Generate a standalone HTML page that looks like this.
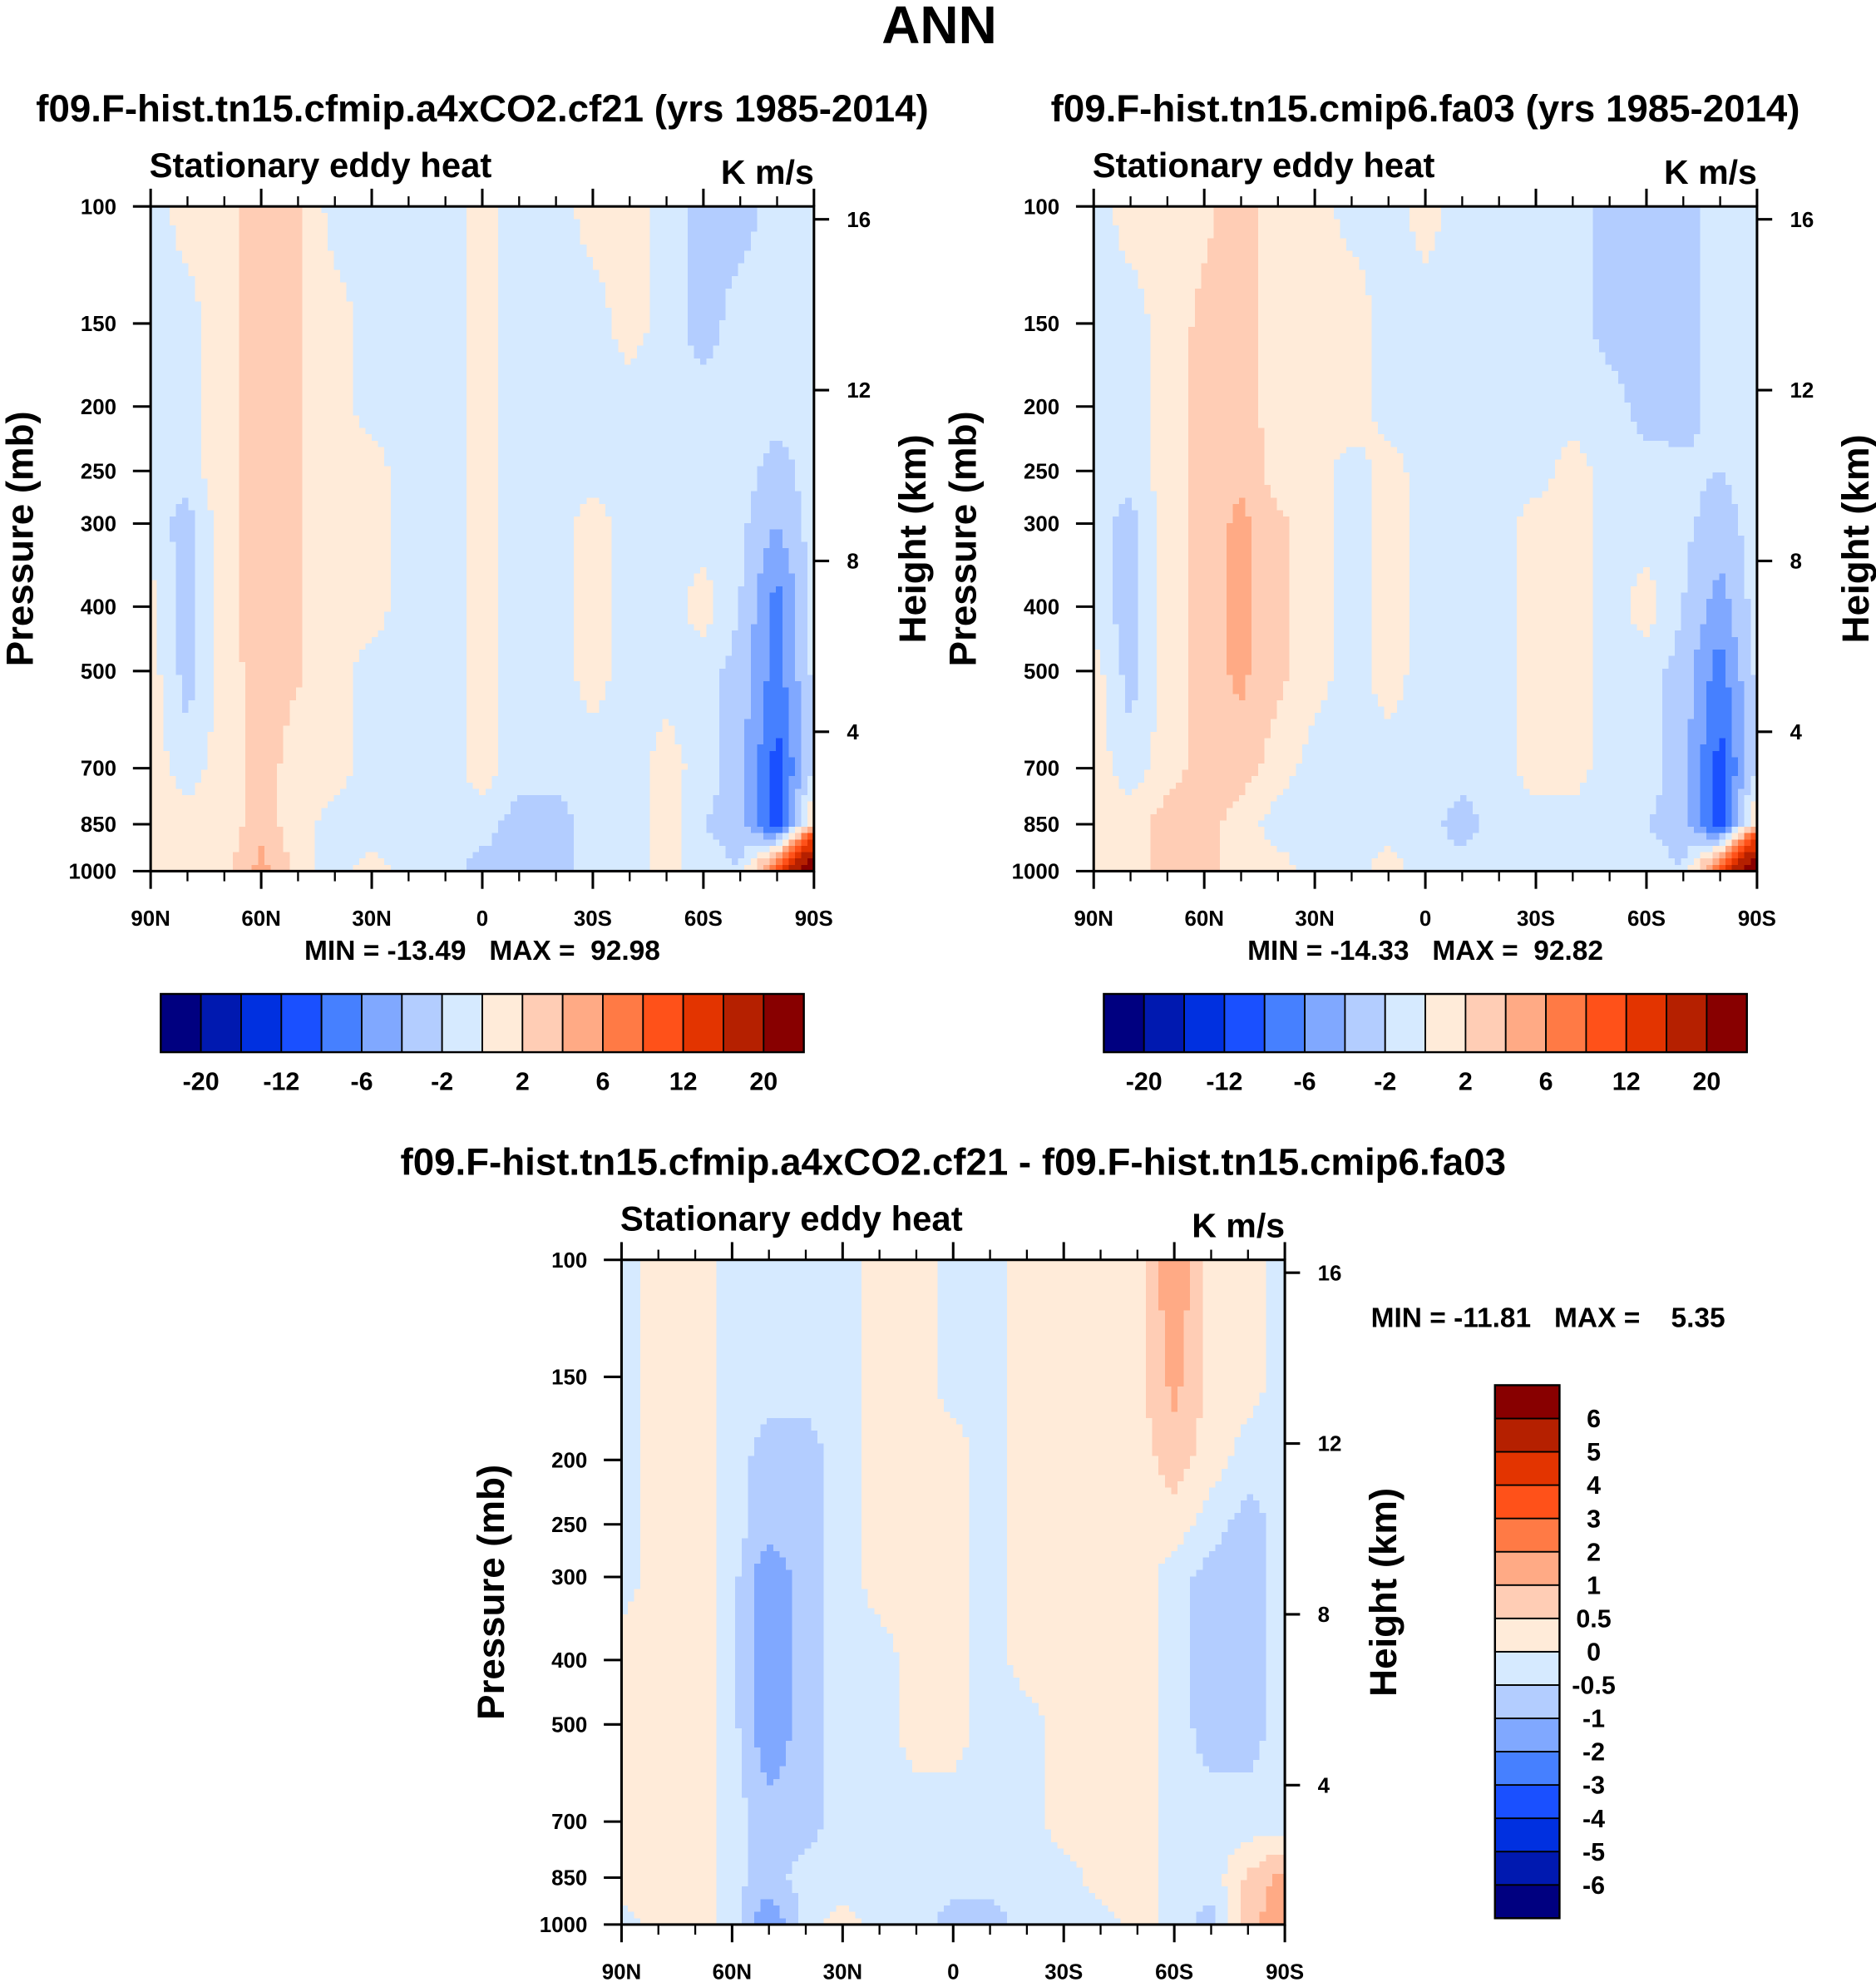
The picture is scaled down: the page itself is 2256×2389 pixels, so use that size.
<!DOCTYPE html>
<html><head><meta charset="utf-8">
<style>
html,body{margin:0;padding:0;background:#fff;}
svg text{font-family:"Liberation Sans",Arial,sans-serif;font-weight:bold;fill:#000;white-space:pre;}
</style></head>
<body>
<svg id="root" xmlns="http://www.w3.org/2000/svg" width="2256" height="2384" viewBox="0 0 1482 1566">
<rect x="0" y="0" width="1482" height="1566" fill="#fff"/>
<text x="742" y="34" font-size="42" text-anchor="middle">ANN</text>
</svg>
<script>
// ---- data ----
const lats = [90,80,70,60,50,40,30,20,10,0,-10,-20,-30,-40,-50,-60,-70,-80,-90];
const levels = [100,150,200,250,300,400,500,700,850,1000];
const pTicks = [100,150,200,250,300,400,500,700,850,1000];
const zTicks = [4,8,12,16];
const xTickLabels = ["90N","60N","30N","0","30S","60S","90S"];
const xTickLats = [90,60,30,0,-30,-60,-90];
const colors = ["#000080","#0019b0","#0030e0","#1a50ff","#4680ff","#80a8ff","#b3cdff","#d6eaff","#ffebd9","#ffcdb5","#ffaa85","#ff7a45","#ff5119","#e33400","#b52000","#880000"];
const bounds12 = [-20,-16,-12,-8,-6,-4,-2,0,2,4,6,8,12,16,20];
const barLabels12 = ["-20","-12","-6","-2","2","6","12","20"];
const bounds3 = [-6,-5,-4,-3,-2,-1,-0.5,0,0.5,1,2,3,4,5,6];
const barLabels3 = ["-6","-5","-4","-3","-2","-1","-0.5","0","0.5","1","2","3","4","5","6"];

const field1 = [
[-1, 1, 1.5, 3, 2.2,-1,-1,-1,-1, 1,-1,-1, 1, 1,-1,-3,-3,-1,-1],
[-1,-1, 1.5, 3, 2.2, 1,-1,-1,-1, 1,-1,-1,-1, 1,-1,-3,-1,-1,-1],
[-1,-1, 1.5, 3, 2.2, 1,-1,-1,-1, 1,-1,-1,-1,-1,-1,-1,-1,-1,-1],
[-1,-1, 1.5, 3, 2.2, 1, 1,-1,-1, 1,-1,-1,-1,-1,-1,-1,-1,-3,-1],
[-1,-3, 1.5, 3, 2.2, 1, 1,-1,-1, 1,-1,-1, 1,-1,-1,-1,-1.5,-4,-1],
[ 1,-3, 1.5, 3, 2.2, 1, 1,-1,-1, 1,-1,-1, 1,-1,-1, 1,-2,-7,-1.5],
[ 1,-3, 1, 3, 2.2, 1,-1,-1,-1, 1,-1,-1, 1,-1,-1,-1,-3,-7,-1.5],
[ 1,-1, 1, 3, 1, 1,-1,-1,-1, 1,-1,-1,-1,-1, 1,-1,-3,-9,-2],
[ 1, 1, 1, 3, 1,-1,-1,-1,-1,-1,-3,-3,-1,-1, 1,-2,-3,-10, 3],
[ 1, 1, 1, 5, 1,-1, 1,-1,-1,-3,-3,-3,-1,-1, 1,-1,-2, 10,30]
];
const field2 = [
[-1, 1, 1, 1.5, 3, 1, 1,-1,-1, 1,-1,-1,-1,-1,-3,-3,-3,-1,-1],
[-1,-1, 1, 2.5, 3, 1, 1, 1.5,-1,-1,-1,-1,-1,-1,-3,-3,-3,-1,-1],
[-1,-1, 1, 3, 3, 1, 1, 1.5,-1,-1,-1,-1,-1,-1,-1,-3,-3,-1,-1],
[-1,-1, 1, 3, 3.5, 1, 1,-1, 1,-1,-1,-1,-1, 1,-1,-1,-1.5,-2,-1],
[-1,-3, 1, 3, 4.5, 2.5, 1,-1, 1,-1,-1,-1, 1, 1,-1,-1,-1.5,-3,-1],
[-1,-3, 1, 3, 4.5, 2.5, 1,-1, 1,-1,-1,-1, 1, 1,-1, 1,-2,-5,-1],
[ 1,-3, 1, 3, 4.5, 2.5, 1,-1, 1,-1,-1,-1, 1, 1,-1,-1,-3,-7,-1.5],
[ 1,-1, 1, 3, 3, 1,-1,-1,-1,-1,-1,-1, 1, 1,-1,-1,-3,-9,-2],
[ 1, 1, 3, 3, 1,-1,-1,-1,-1,-1,-3,-1,-1,-1,-1,-2,-3,-10, 3],
[ 1, 1, 3, 3, 1, 1,-1,-1, 1,-1,-1,-1,-1,-1,-1,-1,-2, 10,30]
];
const field3 = [
[-0.3, 0.3, 0.3,-0.3,-0.3,-0.3,-0.3, 0.3, 0.3,-0.3,-0.3, 0.3, 0.3, 0.3, 0.3, 1.5, 0.3, 0.3,-0.3],
[-0.3, 0.3, 0.3,-0.3,-0.3,-0.3,-0.3, 0.3, 0.3,-0.3,-0.3, 0.3, 0.3, 0.3, 0.3, 1.2, 0.3, 0.3,-0.3],
[-0.3, 0.3, 0.3,-0.3,-0.7,-0.7,-0.3, 0.3, 0.3, 0.3,-0.3, 0.3, 0.3, 0.3, 0.3, 0.7, 0.3,-0.3,-0.3],
[-0.3, 0.3, 0.3,-0.3,-0.7,-0.7,-0.3, 0.3, 0.3, 0.3,-0.3, 0.3, 0.3, 0.3, 0.3, 0.3,-0.3,-0.7,-0.3],
[-0.3, 0.3, 0.3,-0.3,-1.5,-0.7,-0.3, 0.3, 0.3, 0.3,-0.3, 0.3, 0.3, 0.3, 0.3,-0.3,-0.7,-0.7,-0.3],
[ 0.3, 0.3, 0.3,-0.3,-1.5,-0.7,-0.3,-0.3, 0.3, 0.3,-0.3, 0.3, 0.3, 0.3, 0.3,-0.3,-0.7,-0.7,-0.3],
[ 0.3, 0.3, 0.3,-0.3,-1.5,-0.7,-0.3,-0.3, 0.3, 0.3,-0.3,-0.3, 0.3, 0.3, 0.3,-0.3,-0.7,-0.7,-0.3],
[ 0.3, 0.3, 0.3,-0.3,-0.7,-0.7,-0.3,-0.3,-0.3,-0.3,-0.3,-0.3, 0.3, 0.3, 0.3,-0.3,-0.3,-0.3,-0.3],
[ 0.3, 0.3, 0.3,-0.3,-0.7,-0.3,-0.3,-0.3,-0.3,-0.3,-0.3,-0.3,-0.3, 0.3, 0.3,-0.3,-0.3, 0.6, 1.2],
[-0.3, 0.3, 0.3,-0.3,-1.5,-0.3, 0.3,-0.3,-0.3,-0.7,-0.7,-0.3,-0.3,-0.3, 0.3,-0.3,-0.7, 0.8, 1.5]
];

// ---- drawing ----
const NS = "http://www.w3.org/2000/svg";
const root = document.getElementById('root');
function mk(tag, attrs, parent){
  const e = document.createElementNS(NS, tag);
  for (const k in attrs) e.setAttribute(k, attrs[k]);
  (parent||root).appendChild(e); return e;
}
function txt(s, x, y, size, anchor, parent, rot){
  const t = mk('text', {x:x, y:y, 'font-size':size, 'text-anchor':anchor||'start'}, parent);
  if (rot) t.setAttribute('transform', 'rotate(-90 '+x+' '+y+')');
  t.textContent = s; return t;
}
function colorIdx(v, b){ let i=0; while(i<b.length && v>=b[i]) i++; return i; }

function panel(name, x0, y0, field, bounds, title, minmax){
  const W=524, H=525;
  const g = mk('g', {});
  
  
  const xOf = lat => x0 + (90-lat)/180*W;
  const yOf = p => y0 + Math.log10(p/100)*H;
  const hm = mk('g', {'shape-rendering':'crispEdges'}, g);
  
  
  const rowY = levels.map(yOf);
  const NX=105, NY=105;
  const cw=W/NX, ch=H/NY;
  for (let j=0;j<NY;j++){
    const yc = y0 + (j+0.5)*ch;
    let r=0; while(r<levels.length-2 && rowY[r+1]<yc) r++;
    let ty=(yc-rowY[r])/(rowY[r+1]-rowY[r]); ty=Math.max(0,Math.min(1,ty));
    let runStart=0, runCol=-1;
    for (let i=0;i<=NX;i++){
      let ci=-1;
      if (i<NX){
        const fx=(i+0.5)/NX*(lats.length-1);
        const c=Math.min(lats.length-2,Math.floor(fx)); const tx=fx-c;
        const v=(1-ty)*((1-tx)*field[r][c]+tx*field[r][c+1])+ty*((1-tx)*field[r+1][c]+tx*field[r+1][c+1]);
        ci=colorIdx(v,bounds);
      }
      if (ci!==runCol){
        if (runCol>=0){
          const cell = mk('rect',{x:(x0+runStart*cw).toFixed(2),y:(y0+j*ch).toFixed(2),width:((i-runStart)*cw+0.3).toFixed(2),height:(ch+0.3).toFixed(2),fill:colors[runCol]},hm);
          
          
        }
        runStart=i; runCol=ci;
      }
    }
  }
  mk('rect',{x:x0,y:y0,width:W,height:H,fill:'none',stroke:'#000','stroke-width':2},g);
  for (let lat=90; lat>=-90; lat-=10){
    const x=xOf(lat); const major = lat%30===0;
    const L = major?14:8;
    mk('line',{x1:x,y1:y0,x2:x,y2:y0-L,stroke:'#000','stroke-width':major?2:1.5},g);
    mk('line',{x1:x,y1:y0+H,x2:x,y2:y0+H+L,stroke:'#000','stroke-width':major?2:1.5},g);
  }
  xTickLabels.forEach((s,k)=>{ const t=txt(s,xOf(xTickLats[k]),y0+H+43,17,'middle',g);
      });
  pTicks.forEach(p=>{ const y=yOf(p);
    mk('line',{x1:x0-14,y1:y,x2:x0,y2:y,stroke:'#000','stroke-width':2},g);
    const t=txt(String(p),x0-27,y+6,17,'end',g);
      });
  const yOfZ = z => yOf(1115*Math.exp(-z/6.76));
  zTicks.forEach(z=>{ const y=yOfZ(z);
    mk('line',{x1:x0+W,y1:y,x2:x0+W+12,y2:y,stroke:'#000','stroke-width':2},g);
    const t=txt(String(z),x0+W+26,y+6,17,'start',g);
      });
  let t=txt('Pressure (mb)',x0-93,y0+H/2,30,'middle',g,true);
   
  t=txt('Height (km)',x0+W+88,y0+H/2,30,'middle',g,true);
   
  t=txt('Stationary eddy heat',x0-1,y0-23,27.5,'start',g);
   
  t=txt('K m/s',x0+W,y0-18,27,'end',g);
   
  t=txt(title,x0+W/2,y0-67,30,'middle',g);
   
  if (minmax){ t=txt(minmax,x0+W/2,y0+H+70,22,'middle',g);
      }
  return g;
}

function hbar(x0,y0){
  const g=mk('g',{});
   
  const W=508, H=46, bw=W/colors.length;
  colors.forEach((c,i)=>{ const r=mk('rect',{x:x0+i*bw,y:y0,width:bw,height:H,fill:c,stroke:'#000','stroke-width':1.2},g);
      });
  mk('rect',{x:x0,y:y0,width:W,height:H,fill:'none',stroke:'#000','stroke-width':1.6},g);
  barLabels12.forEach((s,k)=>{ const t=txt(s,x0+(2*k+1)*bw,y0+H+30,20,'middle',g);
      });
}
function vbar(x0,y0){
  const g=mk('g',{});
   
  const W=51, H=421, bh=H/colors.length;
  colors.forEach((c,i)=>{ const r=mk('rect',{x:x0,y:y0+H-(i+1)*bh,width:W,height:bh,fill:c,stroke:'#000','stroke-width':1.2},g);
      });
  mk('rect',{x:x0,y:y0,width:W,height:H,fill:'none',stroke:'#000','stroke-width':1.6},g);
  barLabels3.forEach((s,k)=>{ const t=txt(s,x0+78,y0+H-(k+1)*bh+7,20,'middle',g);
      });
}

panel('panel-cf21',119,163,field1,bounds12,'f09.F-hist.tn15.cfmip.a4xCO2.cf21 (yrs 1985-2014)','MIN = -13.49   MAX =  92.98');
hbar(127,785);
panel('panel-fa03',864,163,field2,bounds12,'f09.F-hist.tn15.cmip6.fa03 (yrs 1985-2014)','MIN = -14.33   MAX =  92.82');
hbar(872,785);
panel('panel-diff',491,995,field3,bounds3,'f09.F-hist.tn15.cfmip.a4xCO2.cf21 - f09.F-hist.tn15.cmip6.fa03',null);
const mm=txt('MIN = -11.81   MAX =    5.35',1083,1048,22,'start');


vbar(1181,1094);
</script>
</body></html>
